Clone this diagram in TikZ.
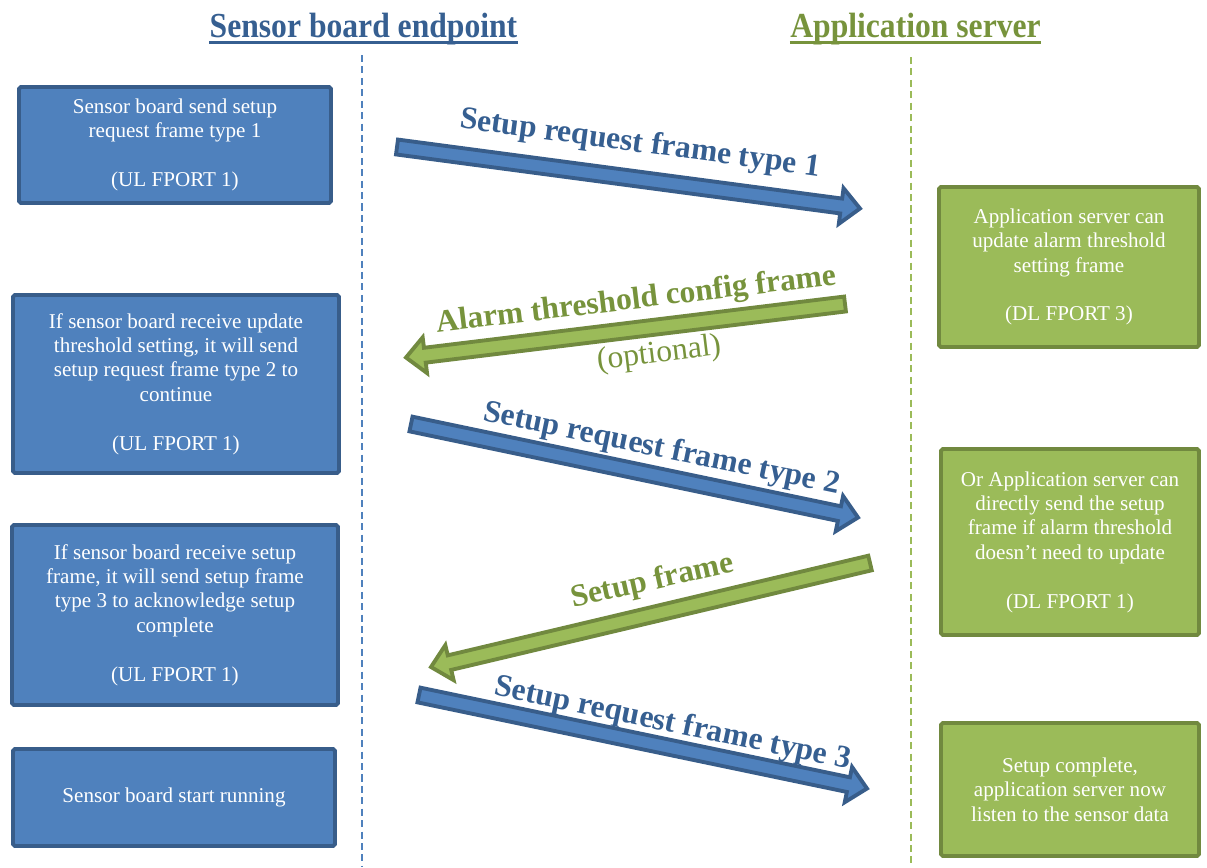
\documentclass[tikz,border=0pt]{standalone}
\usepackage{fontspec}
\setmainfont{Liberation Serif}
\usetikzlibrary{calc}
\definecolor{boardfill}{HTML}{4F81BD}
\definecolor{boardline}{HTML}{385D8A}
\definecolor{boardtext}{HTML}{365F91}
\definecolor{serverfill}{HTML}{9BBB59}
\definecolor{serverline}{HTML}{71893F}
\definecolor{servertext}{HTML}{77933C}
\newcommand\arrshaft{0.15cm}
\newcommand\arrhead{0.36cm}
\newcommand\arrlen{0.38cm}
\newcommand\fatarrow[3]{%
  \coordinate (fa-base) at ($(#2)!\arrlen!(#1)$);
  \draw[#3] ($(#1)!\arrshaft!90:(#2)$) -- ($(fa-base)!\arrshaft!-90:(#1)$)
    -- ($(fa-base)!\arrhead!-90:(#1)$) -- (#2) -- ($(fa-base)!\arrhead!90:(#1)$)
    -- ($(fa-base)!\arrshaft!90:(#1)$) -- ($(#1)!\arrshaft!-90:(#2)$) -- cycle;}
\begin{document}
\begin{tikzpicture}[x=0.02cm,y=-0.02cm,line join=miter,
  boardbox/.style={draw=boardline,fill=boardfill,line width=2.2pt,rounded corners=1pt,
    text=white,align=center,inner sep=2pt,font=\fontsize{12}{13.9}\selectfont},
  serverbox/.style={boardbox,draw=serverline,fill=serverfill},
  titletext/.style={inner sep=0pt,anchor=base,font=\bfseries\fontsize{20}{22}\selectfont},
  lifeline/.style={dash pattern=on 4pt off 2.5pt,line width=0.8pt},
  msglabel/.style={inner sep=0pt,anchor=base,font=\bfseries\fontsize{18}{20}\selectfont},
  boardarrow/.style={draw=boardline,fill=boardfill,line width=2.2pt},
  serverarrow/.style={draw=serverline,fill=serverfill,line width=2.2pt}]
\useasboundingbox (0,0) rectangle (1207,867);
\node[titletext,text=boardtext] (boardtitle) at (363.5,37) {\scalebox{0.9}[1]{Sensor board endpoint}};
\node[titletext,text=servertext] (servertitle) at (915.5,37) {\scalebox{0.9}[1]{Application server}};
\draw[boardtext,line width=1.8pt] ([yshift=-3.1pt]boardtitle.base west) -- ([yshift=-3.1pt]boardtitle.base east);
\draw[servertext,line width=1.8pt] ([yshift=-3.1pt]servertitle.base west) -- ([yshift=-3.1pt]servertitle.base east);
\coordinate (boardtop) at (362,55);
\coordinate (boardend) at (362,867);
\coordinate (servertop) at (911,57);
\coordinate (serverend) at (911,867);
\draw[lifeline,boardfill] (boardtop) -- (boardend);
\draw[lifeline,serverfill] (servertop) -- (serverend);
\node[boardbox,minimum width=6.24cm,minimum height=2.32cm] (send1) at (175,145)
  {Sensor board send setup\\request frame type 1\\[13.9pt](UL FPORT 1)};
\node[boardbox,minimum width=6.52cm,minimum height=3.56cm] (send2) at (176,384)
  {If sensor board receive update\\threshold setting, it will send\\setup request frame type 2 to\\continue\\[13.9pt](UL FPORT 1)};
\node[boardbox,minimum width=6.52cm,minimum height=3.6cm] (send3) at (175,615)
  {If sensor board receive setup\\frame, it will send setup frame\\type 3 to acknowledge setup\\complete\\[13.9pt](UL FPORT 1)};
\node[boardbox,minimum width=6.44cm,minimum height=1.94cm] (running) at (174,797.5)
  {Sensor board start running};
\node[serverbox,minimum width=5.2cm,minimum height=3.2cm] (threshold) at (1069,267)
  {Application server can\\update alarm threshold\\setting frame\\[13.9pt](DL FPORT 3)};
\node[serverbox,minimum width=5.16cm,minimum height=3.72cm] (direct) at (1070,542)
  {Or Application server can\\directly send the setup\\frame if alarm threshold\\doesn’t need to update\\[13.9pt](DL FPORT 1)};
\node[serverbox,minimum width=5.16cm,minimum height=2.66cm] (complete) at (1070,789.5)
  {Setup complete,\\application server now\\listen to the sensor data};
\coordinate (req1-from) at (397,147);
\coordinate (req1-to) at (860,208.5);
\coordinate (alarm-from) at (845,304);
\coordinate (alarm-to) at (406,357.5);
\coordinate (req2-from) at (411,424);
\coordinate (req2-to) at (858,517.5);
\coordinate (setup-from) at (870,563);
\coordinate (setup-to) at (431,667);
\coordinate (req3-from) at (419,695);
\coordinate (req3-to) at (867,788.5);
\fatarrow{req1-from}{req1-to}{boardarrow}
\fatarrow{alarm-from}{alarm-to}{serverarrow}
\fatarrow{req2-from}{req2-to}{boardarrow}
\fatarrow{setup-from}{setup-to}{serverarrow}
\fatarrow{req3-from}{req3-to}{boardarrow}
\node[msglabel,text=boardtext,rotate=-7.7] (req1) at (639,152) {Setup request frame type 1};
\node[msglabel,text=servertext,rotate=6.9] (alarm) at (637,308.5) {Alarm threshold config frame};
\node[msglabel,font=\fontsize{18}{20}\selectfont,text=servertext,rotate=6.9] (optional) at (660,362) {(optional)};
\node[msglabel,text=boardtext,rotate=-11.7] (req2) at (660,457) {Setup request frame type 2};
\node[msglabel,text=servertext,rotate=12.6] (setup) at (654,589.5) {Setup frame};
\node[msglabel,text=boardtext,rotate=-11.8] (req3) at (671,732) {Setup request frame type 3};
\end{tikzpicture}
\end{document}
